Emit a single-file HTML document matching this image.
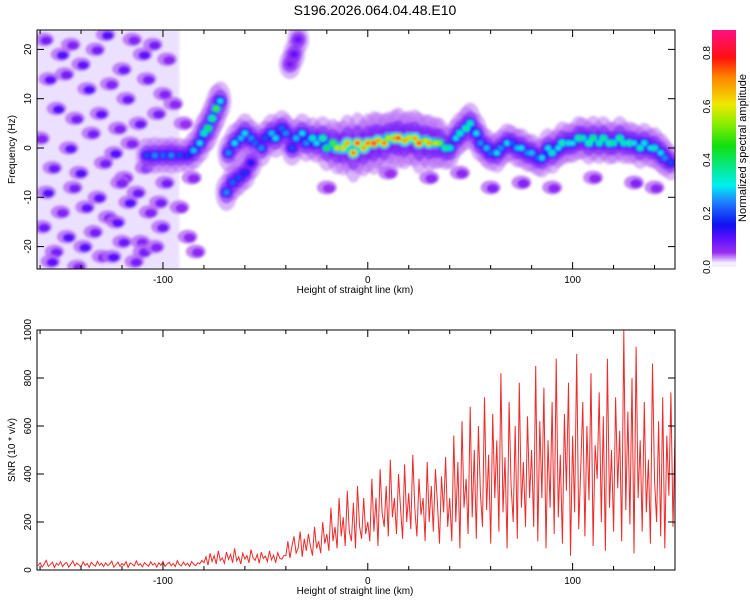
<!DOCTYPE html>
<html><head><meta charset="utf-8">
<style>
body{margin:0;background:#fff;font-family:"Liberation Sans",sans-serif;}
svg text{font-family:"Liberation Sans",sans-serif;fill:#000;}
</style></head>
<body>
<svg id="c" width="750" height="600" viewBox="0 0 750 600">
<defs>
<linearGradient id="cb" x1="0" y1="1" x2="0" y2="0">
<stop offset="0" stop-color="#eedcff"/><stop offset="0.04" stop-color="#9a30f0"/>
<stop offset="0.1" stop-color="#6010ff"/><stop offset="0.16" stop-color="#1010f0"/>
<stop offset="0.26" stop-color="#2080ff"/><stop offset="0.33" stop-color="#00f0f0"/>
<stop offset="0.5" stop-color="#10e010"/><stop offset="0.6" stop-color="#90ee00"/>
<stop offset="0.68" stop-color="#f0e800"/><stop offset="0.8" stop-color="#ff8000"/>
<stop offset="0.88" stop-color="#ff1010"/><stop offset="1" stop-color="#ff1080"/>
</linearGradient>
<clipPath id="tc"><rect x="37" y="30" width="638" height="239"/></clipPath>
<clipPath id="bc"><rect x="37" y="330" width="638" height="240"/></clipPath>
<filter id="bl"><feGaussianBlur stdDeviation="1.2"/></filter>
</defs>
<text x="375" y="15" text-anchor="middle" font-size="14">S196.2026.064.04.48.E10</text>
<g id="top"></g>
<g id="bot"></g>
<g>
<rect x="712" y="30" width="24" height="232" fill="url(#cb)"/>
<rect x="712" y="262" width="24" height="5" fill="#f4ecff"/>
<g id="cbt"></g>
<text transform="translate(746,148) rotate(-90)" text-anchor="middle" font-size="11">Normalized spectral amplitude</text>
</g>
</svg>
<script>
const xTicks=[-100,0,100];
const fTicks=[-20,-10,0,10,20];
const snrTicks=[0,200,400,600,800,1000];
const cbTicks=[0.0,0.2,0.4,0.6,0.8];
const ridgeX=[-108,-104,-100,-96,-92,-88,-85,-82,-80,-78,-76,-74,-72,-68,-65,-62,-60,-57,-55,-52,-50,-47,-45,-42,-40,-37,-35,-32,-30,-27,-25,-22,-20,-17,-15,-12,-10,-7,-5,-2,0,3,5,8,10,13,15,18,20,23,25,28,30,33,35,38,40,43,45,48,50,53,55,58,60,63,65,68,70,73,75,78,80,83,85,88,90,93,95,98,100,103,105,108,110,113,115,118,120,123,125,128,130,133,135,138,140,143,145,148];
const ridgeF=[-1.5,-1.5,-1.5,-1.5,-1.5,-1.5,-0.5,1,3,4,6,8,9.5,-1,1,2,3,2,1,0,2,3,2,4,3,0,2,3,1,2,1,2,0,1,0,0,1,-1,1,0,1,1,1.5,1,2,2,2,1.5,2,2,1,1.5,1,1,1,0,0,2,3,4,5,3,1,0,-1,-1,0,1,1,0,0,-1,-1,-2,-2,0,-1,0,1,1,1,2,2,1,2,1,2,1,1,2,1,1,1,0,1,0,0,-1,-2,-3];
const ridgeA=[0.2,0.25,0.22,0.25,0.2,0.18,0.28,0.3,0.35,0.45,0.4,0.5,0.3,0.25,0.3,0.28,0.3,0.25,0.22,0.25,0.2,0.28,0.3,0.22,0.25,0.2,0.28,0.3,0.25,0.35,0.3,0.4,0.45,0.5,0.6,0.65,0.7,0.75,0.8,0.7,0.75,0.85,0.7,0.75,0.6,0.7,0.8,0.7,0.65,0.7,0.8,0.6,0.7,0.6,0.55,0.4,0.35,0.3,0.35,0.4,0.35,0.3,0.25,0.28,0.22,0.3,0.25,0.3,0.22,0.28,0.3,0.25,0.28,0.22,0.3,0.3,0.35,0.3,0.38,0.32,0.3,0.4,0.35,0.38,0.42,0.35,0.4,0.38,0.35,0.4,0.35,0.38,0.3,0.35,0.32,0.3,0.35,0.3,0.25,0.2];
const branchX=[-69,-66,-63,-60,-57,-38,-36,-34];
const branchF=[-9,-7,-6,-5,-3,17,19,22];
const branchA=[0.25,0.22,0.2,0.18,0.15,0.08,0.1,0.09];
const noiseX=[-158,-150,-145,-140,-133,-128,-120,-115,-110,-105,-98,-156,-148,-137,-126,-118,-108,-100,-95,-152,-143,-131,-122,-112,-103,-160,-146,-135,-124,-116,-106,-97,-154,-141,-129,-119,-109,-99,-157,-144,-132,-121,-113,-102,-150,-138,-127,-117,-107,-159,-147,-134,-123,-111,-101,-153,-139,-130,-120,-110,-155,-142,-125,-114,-104,-92,-88,-90,-86,-84,30,60,75,90,110,130,140,-20,10,45];
const noiseF=[22,19,21,17,20,23,16,22,19,21,18,14,15,12,13,10,14,11,9,8,6,7,4,5,7,2,0,3,-1,1,-2,0,-4,-5,-3,-6,-4,-7,-9,-8,-10,-7,-9,-11,-13,-12,-14,-11,-13,-16,-18,-17,-15,-19,-16,-21,-20,-22,-19,-21,-23,-24,-22,-23,-20,-12,-18,5,-6,-21,-6,-8,-7,-8,-6,-7,-8,-8,-5,-5];
const noiseA=[0.07,0.1,0.06,0.09,0.07,0.1,0.08,0.06,0.09,0.07,0.05,0.09,0.07,0.1,0.06,0.08,0.07,0.06,0.05,0.1,0.07,0.09,0.06,0.08,0.07,0.06,0.09,0.07,0.1,0.06,0.08,0.06,0.08,0.1,0.07,0.06,0.09,0.07,0.1,0.07,0.09,0.06,0.08,0.07,0.06,0.09,0.07,0.1,0.06,0.08,0.1,0.07,0.09,0.06,0.08,0.07,0.1,0.06,0.08,0.07,0.09,0.06,0.1,0.07,0.06,0.05,0.05,0.04,0.05,0.05,0.05,0.06,0.06,0.05,0.05,0.06,0.05,0.04,0.04,0.05];
const snrStart=-161, snrStep=1;
const snrVals=[18,30,12,25,40,15,22,33,10,28,20,35,14,26,31,12,24,38,17,29,
21,13,34,19,27,11,32,23,16,36,20,28,14,30,18,25,37,12,22,33,
15,27,19,35,11,29,24,17,38,20,26,13,31,22,16,34,21,28,12,30,
19,36,15,25,32,18,27,14,39,22,17,33,20,28,15,35,24,18,30,26,
40,
30,55,20,70,35,60,25,80,40,50,28,75,45,65,30,90,38,55,25,70,
45,60,30,85,50,40,65,28,75,48,58,35,80,42,62,30,72,50,45,60,
60,120,50,100,140,70,90,160,55,130,80,150,100,60,180,90,120,70,200,110,
150,80,260,120,180,90,300,140,220,100,330,160,120,280,90,350,180,130,300,150,
200,120,380,160,300,100,420,240,180,350,140,460,220,300,150,400,260,130,440,200,
320,170,480,250,140,380,230,300,120,450,200,350,160,420,280,110,390,240,470,180,
300,120,560,200,450,90,620,260,380,150,680,220,500,130,600,320,180,720,250,480,
110,650,300,540,160,820,240,470,90,700,350,200,600,130,780,260,450,180,640,300,
500,180,850,120,620,300,760,90,540,260,700,150,880,220,480,110,650,330,780,60,
560,240,900,170,430,700,140,600,290,820,100,520,380,740,200,640,80,880,260,500,
160,720,340,580,120,1000,250,660,190,800,70,930,300,540,160,700,240,460,110,860,
380,200,620,140,720,90,560,310,740,180,560];

const NS='http://www.w3.org/2000/svg';
const X0=37,X1=675,KM0=-161.5,KM1=150;
const xs=v=>X0+(v-KM0)/(KM1-KM0)*(X1-X0);
const fy=v=>148-v*4.93;
const sy=v=>570-v*0.24;
const cyy=v=>267-v*(267-53)/0.8;
function mk(t,a,p){const e=document.createElementNS(NS,t);for(const k in a)e.setAttribute(k,a[k]);p.appendChild(e);return e;}
const stops=[[0,[238,220,255]],[0.04,[154,48,240]],[0.1,[96,16,255]],[0.16,[16,16,240]],[0.26,[32,128,255]],[0.33,[0,240,240]],[0.5,[16,224,16]],[0.6,[144,238,0]],[0.68,[240,232,0]],[0.8,[255,128,0]],[0.88,[255,16,16]],[1,[255,16,128]]];
function col(a){let t=Math.min(1,Math.max(0,a/0.92));for(let i=1;i<stops.length;i++){if(t<=stops[i][0]){const[p0,c0]=stops[i-1],[p1,c1]=stops[i];const u=(t-p0)/(p1-p0);return 'rgb('+c0.map((c,j)=>Math.round(c+(c1[j]-c)*u)).join(',')+')';}}return 'rgb(255,16,128)';}

const topG=document.getElementById('top');
const tg=mk('g',{'clip-path':'url(#tc)'},topG);
const tb=mk('g',{filter:'url(#bl)'},tg);
mk('rect',{x:xs(-161.5),y:30,width:xs(-92)-xs(-161.5),height:239,fill:'#ece0ff'},tb);
noiseX.forEach((x,i)=>{
 const e=mk('ellipse',{cx:xs(x),cy:fy(noiseF[i]),rx:10,ry:7,fill:col(0.025),opacity:0.8},tb);
 
 
 const c=mk('ellipse',{cx:xs(x)+2,cy:fy(noiseF[i])+1,rx:6,ry:4.5,fill:col(noiseA[i])},tb);
 
 
});
function ridge(X,F,A,nm){
 [[0,11,22,0.5],[0.06,8,13,0.55],[0.45,6,9,0.9],[0.8,4,5.5,1],[1,2.3,3.4,1]].forEach(([s,rx,ry,op],L)=>{
  X.forEach((x,i)=>{
   const a=L==0?0.025:(L==1?0.07:A[i]*s);
   const e=mk('ellipse',{cx:xs(x),cy:fy(F[i]),rx:rx,ry:L<2?ry*(0.6+A[i]):ry/1.6,fill:col(a),opacity:op},tb);
   
   
  });
 });
}
ridge(ridgeX,ridgeF,ridgeA,'ridge-cell');
ridge(branchX,branchF,branchA,'branch-cell');

function frame(g,y0,y1,yt,ys,yTitle,nmY){
 mk('rect',{x:X0,y:y0,width:X1-X0,height:y1-y0,fill:'none',stroke:'#000','stroke-width':1},g);
 for(let k=-160;k<=150;k+=20){const px=xs(k);const L=(k%100==0)?7:4;
  mk('line',{x1:px,x2:px,y1:y1,y2:y1-L,stroke:'#000'},g);mk('line',{x1:px,x2:px,y1:y0,y2:y0+L,stroke:'#000'},g);}
 xTicks.forEach(v=>{const t=mk('text',{x:xs(v),y:y1+14,'text-anchor':'middle','font-size':10},g);t.textContent=v;
  
  });
 const xt=mk('text',{x:355,y:y1+24,'text-anchor':'middle','font-size':10},g);xt.textContent='Height of straight line (km)';
 
 
 yt.forEach(v=>{const py=ys(v);mk('line',{x1:X0,x2:X0+7,y1:py,y2:py,stroke:'#000'},g);mk('line',{x1:X1,x2:X1-7,y1:py,y2:py,stroke:'#000'},g);
  const t=mk('text',{transform:`translate(31,${py}) rotate(-90)`,'text-anchor':'middle','font-size':10},g);t.textContent=v;
  
  });
 const yl=mk('text',{transform:`translate(15,${(y0+y1)/2}) rotate(-90)`,'text-anchor':'middle','font-size':10},g);yl.textContent=yTitle;
 
 
}
frame(topG,30,269,fTicks,fy,'Frequency (Hz)','y-tick-label');

const botG=document.getElementById('bot');
const bg=mk('g',{'clip-path':'url(#bc)'},botG);
const pts=snrVals.map((v,i)=>xs(snrStart+i*snrStep).toFixed(1)+','+sy(v).toFixed(1)).join(' ');
const ln=mk('polyline',{points:pts,fill:'none',stroke:'#ee2a2a','stroke-width':1},bg);


frame(botG,330,570,snrTicks,sy,'SNR (10 * v/v)','snr-tick-label');

const cbt=document.getElementById('cbt');
cbTicks.forEach(v=>{const py=cyy(v);
 const t=mk('text',{transform:`translate(710,${py}) rotate(-90)`,'text-anchor':'middle','font-size':10},cbt);t.textContent=v.toFixed(1);
 
 });
</script>
</body></html>
